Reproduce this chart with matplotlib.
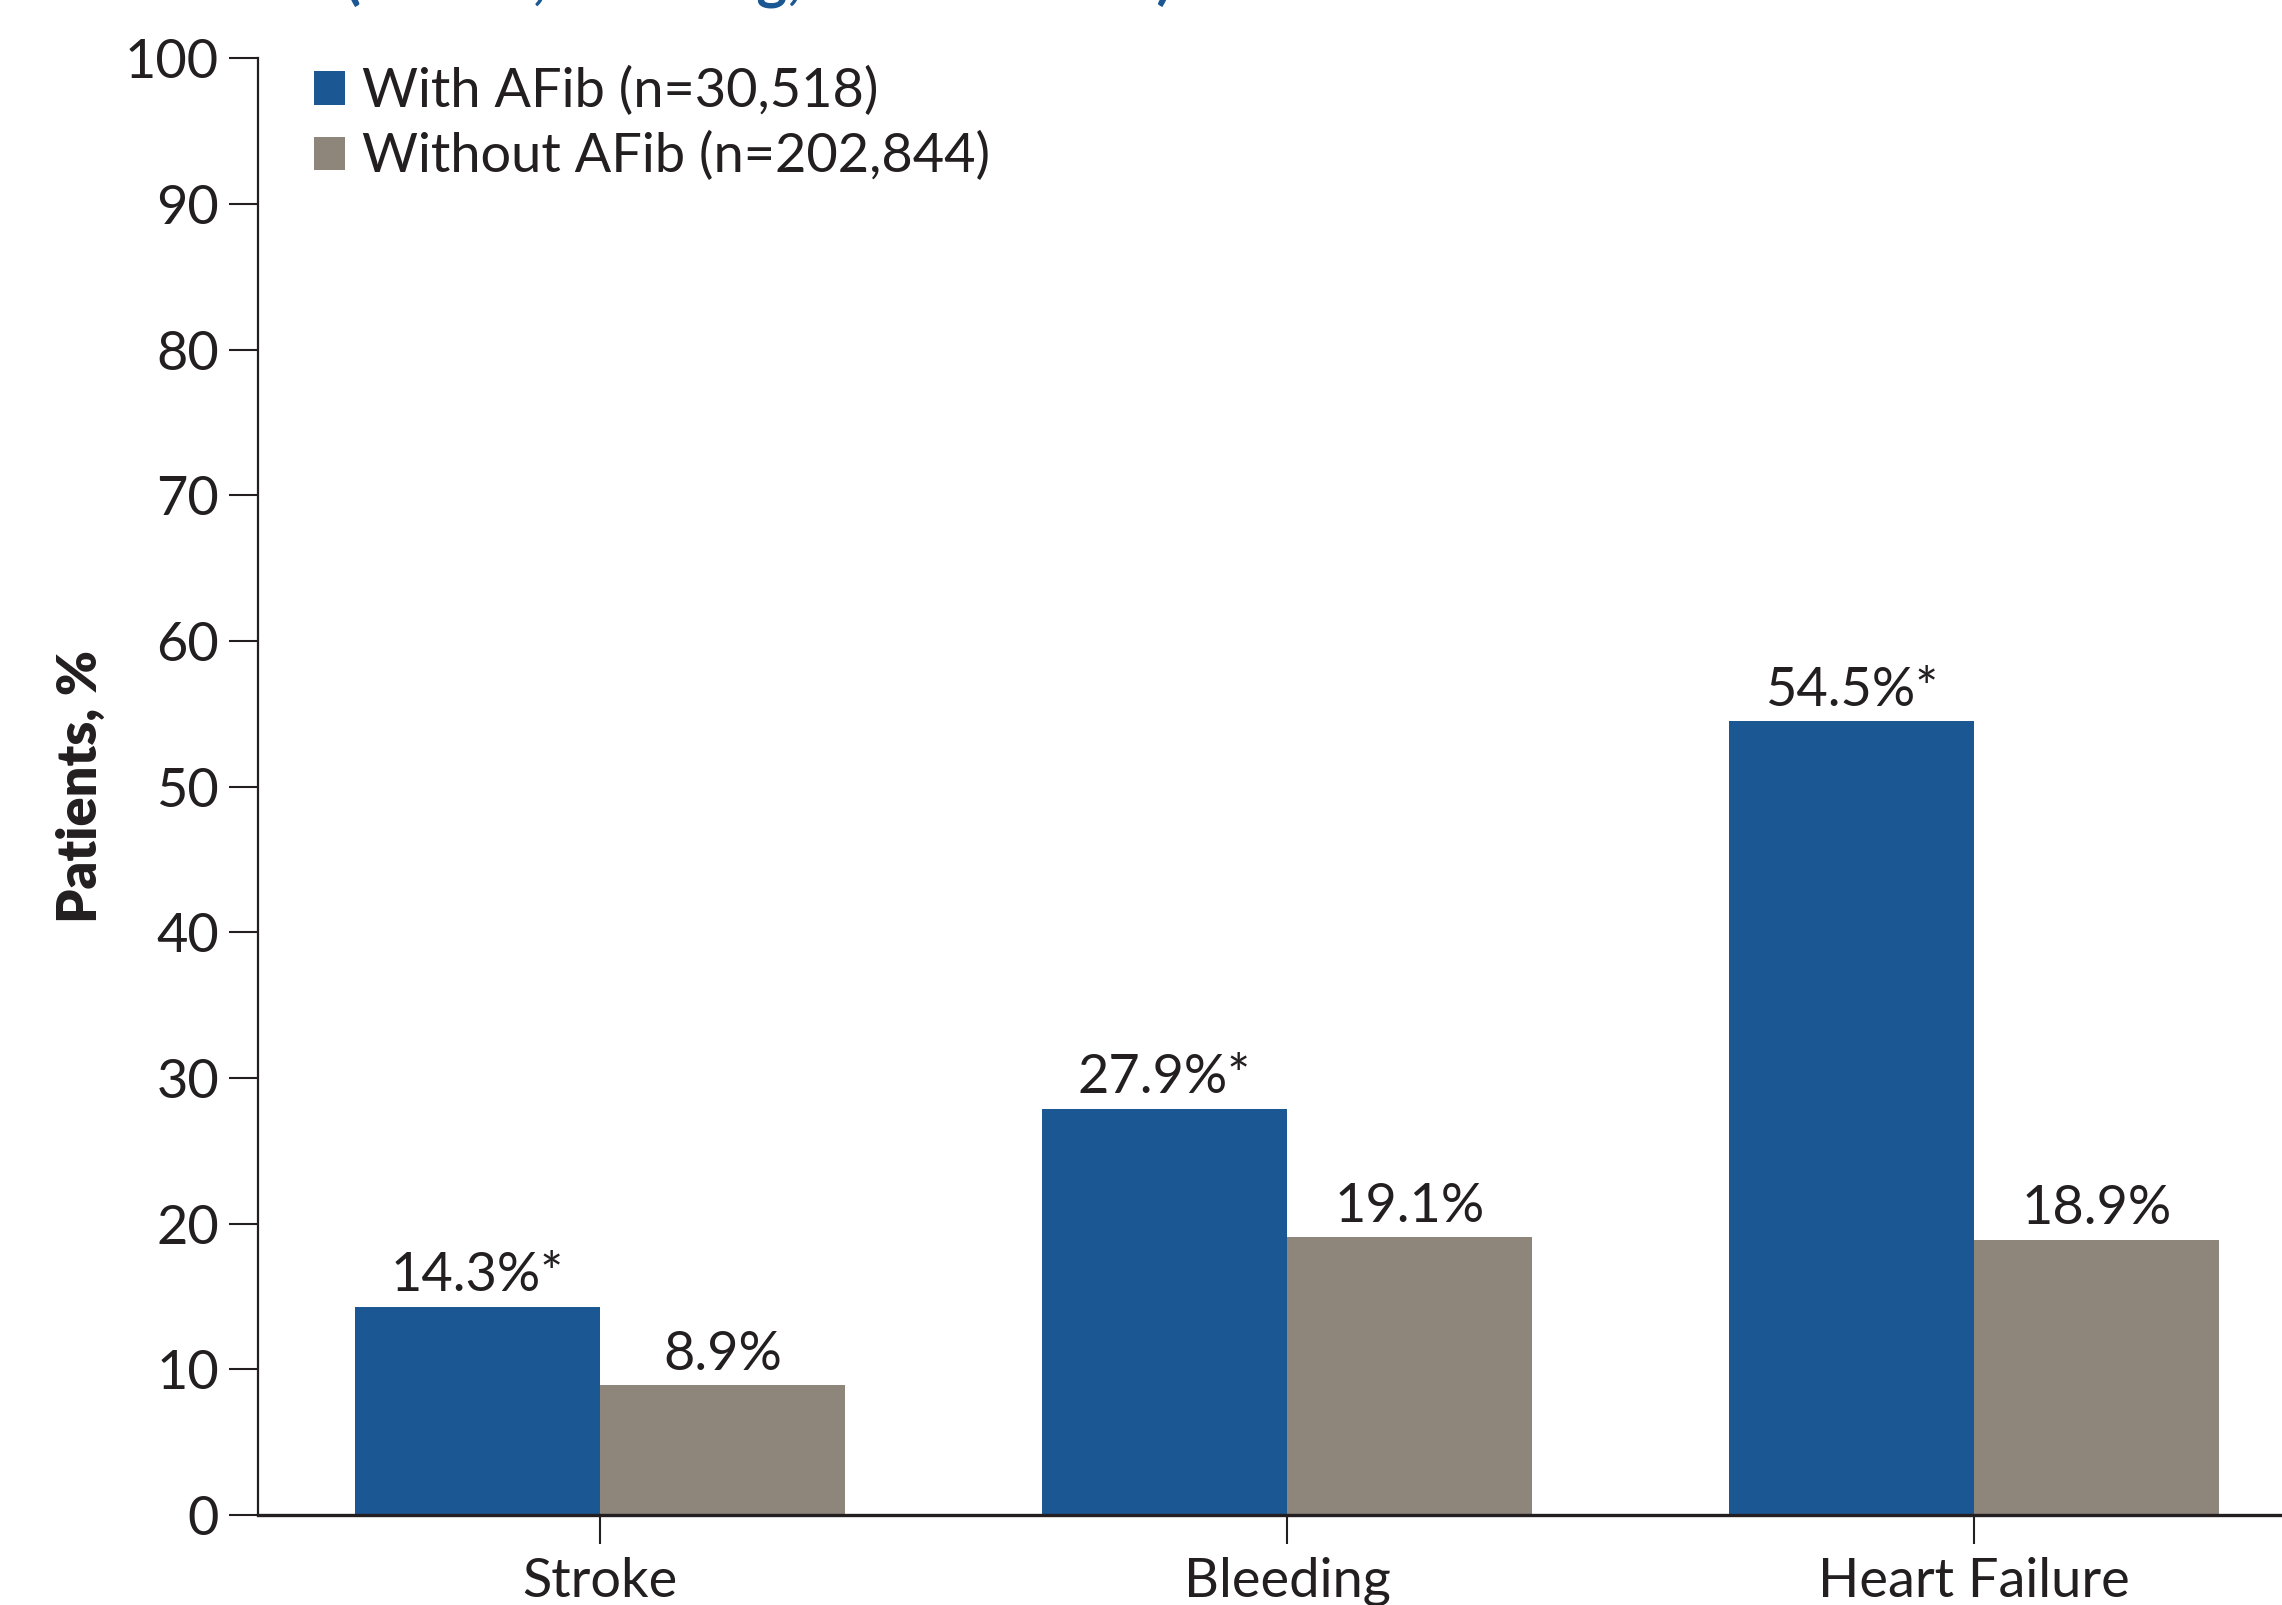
import matplotlib.pyplot as plt
import numpy as np

plt.rcParams['font.family'] = ['Lato', 'DejaVu Sans']

categories = ["Stroke", "Bleeding", "Heart Failure"]
with_afib = [14.3, 27.9, 54.5]
without_afib = [8.9, 19.1, 18.9]
with_labels = ["14.3%*", "27.9%*", "54.5%*"]
without_labels = ["8.9%", "19.1%", "18.9%"]
legend_labels = ["With AFib (n=30,518)", "Without AFib (n=202,844)"]
yticks = np.arange(0, 101, 10)

blue = '#1b5793'
gray = '#8e857b'
ink = '#231f20'
fs = 39

fig = plt.figure(figsize=(22.82, 16.05), dpi=100)
ax = fig.add_axes([0.113, 0.056, 0.887, 0.9078])

x = np.arange(len(categories))
w = 0.357
b1 = ax.bar(x - w/2, with_afib, w, color=blue, label=legend_labels[0])
b2 = ax.bar(x + w/2, without_afib, w, color=gray, label=legend_labels[1])

for xi, v, lab in zip(x - w/2, with_afib, with_labels):
    ax.annotate(lab, (xi, v), xytext=(0, 11), textcoords='offset points',
                ha='center', va='baseline', fontsize=fs, color=ink)
for xi, v, lab in zip(x + w/2, without_afib, without_labels):
    ax.annotate(lab, (xi, v), xytext=(0, 11), textcoords='offset points',
                ha='center', va='baseline', fontsize=fs, color=ink)

ax.set_xlim(-0.498, 2.448)
ax.set_ylim(0, 100)
ax.set_yticks(yticks)
ax.set_xticks(x)
ax.set_xticklabels(categories)
ax.tick_params(axis='both', labelsize=fs, colors=ink, width=1.5, length=21)
ax.tick_params(axis='y', pad=7)
ax.tick_params(axis='x', pad=9)

for s in ['top', 'right']:
    ax.spines[s].set_visible(False)
ax.spines['left'].set_linewidth(1.6)
ax.spines['left'].set_color(ink)
ax.spines['bottom'].set_linewidth(2.4)
ax.spines['bottom'].set_color(ink)
ax.spines['bottom'].set_zorder(5)

ax.set_ylabel("Patients, %", fontsize=fs, fontweight='heavy', color=ink, labelpad=14)

ax.legend(handles=[b1, b2], loc='upper left', bbox_to_anchor=(314/2282, 1 - 66/1605),
          bbox_transform=fig.transFigure, frameon=False, fontsize=fs,
          handlelength=0.58, handleheight=0.58, handletextpad=0.3,
          labelspacing=0.28, borderpad=0, borderaxespad=0, labelcolor=ink)

fig.text(345/2282, 1 + 3/1605, "(Stroke, Bleeding, Heart Failure)", color=blue,
         fontsize=42, fontweight='bold', va='baseline', ha='left')

fig.savefig("out.png", dpi=100)
